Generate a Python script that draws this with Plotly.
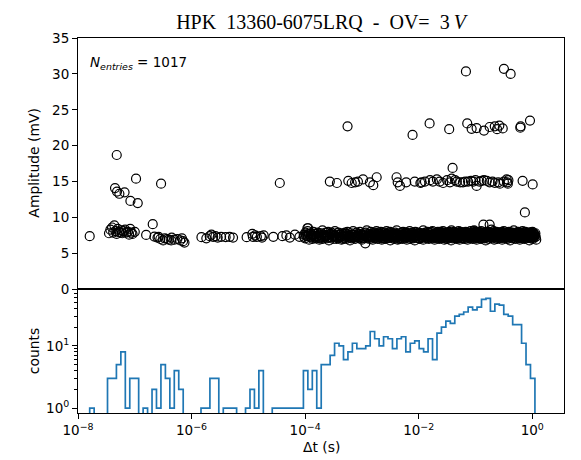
import numpy as np
import plotly.graph_objects as go

# ---------------- data ----------------
TITLE = "HPK\u00a0\u00a013360-6075LRQ\u00a0\u00a0-\u00a0\u00a0OV=\u00a0\u00a03\u2009<i>V</i>"
N_ENTRIES = 1017

# histogram of delta t (log-spaced bins between these decades)
hist_log_lo = -7.794
hist_log_hi = 0.047
hist_counts = [
    1, 0, 0, 0, 3, 3, 5, 8, 1, 3,
    3, 0, 1, 0, 2, 1, 5, 3, 1, 4,
    2, 0, 0, 0, 0, 1, 1, 3, 3, 0,
    1, 1, 1, 0, 0, 1, 2, 1, 4, 0,
    0, 1, 1, 1, 1, 1, 1, 1, 4, 2,
    4, 1, 5, 5, 7, 11, 10, 6, 8, 11,
    9, 9, 10, 17, 13, 10, 14, 13, 9, 13,
    14, 8, 11, 12, 9, 8, 13, 6, 16, 20,
    25, 23, 30, 32, 35, 42, 38, 42, 56, 58,
    36, 47, 45, 32, 30, 22, 22, 11, 5, 3,
]

# scatter: sparse events (log10 dt [s], amplitude [mV])
sparse_log_dt = [
    -7.794, -7.454, -7.43, -7.40, -7.38, -7.36, -7.34, -7.32, -7.30, -7.28,
    -7.26, -7.24, -7.22, -7.20, -7.17, -7.15, -7.12, -7.10, -7.08, -7.06,
    -7.04, -7.00, -7.318, -7.348, -7.313, -7.271, -7.18, -7.077, -6.978, -6.948,
    -6.537, -6.80, -6.684, -6.654, -6.60, -6.58, -6.55, -6.50, -6.47, -6.43,
    -6.40, -6.36, -6.35, -6.30, -6.25, -6.20, -6.17, -6.15, -6.125,
    -5.826, -5.74, -5.68, -5.65, -5.62, -5.58, -5.54, -5.48, -5.40, -5.33, -5.27,
    -5.03, -4.93, -4.92, -4.88, -4.85, -4.78, -4.76, -4.73,
    -4.56, -4.446, -4.40, -4.33, -4.27, -4.18, -4.10, -3.947,
]
sparse_amp = [
    7.4, 7.8, 8.3, 8.6, 7.9, 8.9, 8.1, 7.7, 8.4, 8.0,
    7.9, 8.2, 7.8, 8.1, 8.3, 7.9, 8.0, 7.6, 8.4, 7.9,
    7.7, 8.0, 18.7, 14.1, 13.6, 13.3, 13.5, 12.3, 15.4, 12.0,
    14.7, 7.57, 9.06, 7.34, 7.2, 7.3, 7.0, 6.8, 7.1, 7.0,
    6.9, 6.8, 7.2, 6.9, 7.0, 6.8, 7.1, 6.7, 6.5,
    7.25, 7.1, 7.4, 7.6, 7.3, 7.4, 7.2, 7.3, 7.25, 7.3, 7.2,
    7.25, 7.7, 7.3, 7.5, 7.3, 7.4, 7.2, 7.5,
    7.3, 14.8, 7.4, 7.5, 7.2, 7.6, 7.3, 8.5,
]

# scatter: main (single p.e.) band, lower half
band_log_dt = [
    -4.02, -4.00, -3.99, -3.96, -3.95, -3.93, -3.90, -3.89, -3.87, -3.85,
    -3.84, -3.81, -3.80, -3.78, -3.76, -3.75, -3.72, -3.71, -3.69, -3.67,
    -3.66, -3.63, -3.62, -3.60, -3.58, -3.57, -3.54, -3.53, -3.51, -3.49,
    -3.48, -3.45, -3.44, -3.42, -3.40, -3.39, -3.36, -3.35, -3.33, -3.31,
    -3.30, -3.27, -3.26, -3.24, -3.22, -3.21, -3.18, -3.17, -3.15, -3.13,
    -3.12, -3.09, -3.08, -3.06, -3.04, -3.03, -3.00, -2.99, -2.97, -2.95,
    -2.94, -2.91, -2.90, -2.88, -2.86,
    -2.84, -2.83, -2.81, -2.80, -2.78, -2.77, -2.75, -2.74, -2.72, -2.71,
    -2.69, -2.68, -2.66, -2.65, -2.63, -2.62, -2.61, -2.59, -2.58, -2.56,
    -2.55, -2.53, -2.52, -2.50, -2.49, -2.47, -2.46, -2.45, -2.43, -2.42,
    -2.40, -2.39, -2.37, -2.36, -2.34, -2.33, -2.31, -2.30, -2.29, -2.27,
    -2.26, -2.24, -2.23, -2.21, -2.20, -2.18, -2.17, -2.15, -2.14, -2.13,
    -2.11, -2.10, -2.08, -2.07, -2.05, -2.04, -2.02, -2.01, -1.99, -1.98,
    -1.97, -1.95, -1.94, -1.92, -1.91, -1.89, -1.88, -1.86, -1.85, -1.83,
    -1.82, -1.81, -1.79, -1.78, -1.76, -1.75, -1.73, -1.72, -1.71,
    -1.69, -1.68, -1.67, -1.65, -1.64, -1.63, -1.62, -1.60, -1.59, -1.58,
    -1.57, -1.55, -1.54, -1.53, -1.52, -1.50, -1.49, -1.48, -1.47, -1.45,
    -1.44, -1.43, -1.42, -1.40, -1.39, -1.38, -1.37, -1.35, -1.34, -1.33,
    -1.32, -1.30, -1.29, -1.28, -1.27, -1.25, -1.24, -1.23, -1.22, -1.20,
    -1.19, -1.18, -1.17, -1.15, -1.14, -1.13, -1.12, -1.10, -1.09, -1.08,
    -1.07, -1.05, -1.04, -1.03, -1.02, -1.00, -0.99, -0.98, -0.97, -0.95,
    -0.94, -0.93, -0.92, -0.90, -0.89, -0.88, -0.87, -0.85, -0.84, -0.83,
    -0.82, -0.80, -0.79, -0.78, -0.77, -0.75, -0.74, -0.73, -0.72, -0.70,
    -0.69, -0.68, -0.67, -0.65, -0.64, -0.63, -0.62, -0.60, -0.59, -0.58,
    -0.57, -0.55, -0.54, -0.53, -0.52, -0.50, -0.49, -0.48, -0.47, -0.45,
    -0.44, -0.43, -0.42, -0.40, -0.39, -0.38, -0.37, -0.35, -0.34, -0.33,
    -0.32, -0.30, -0.29, -0.28, -0.27, -0.25, -0.24, -0.23, -0.22, -0.20,
    -0.19, -0.18, -0.17, -0.15, -0.14, -0.13, -0.12, -0.10, -0.09, -0.08,
    -0.07, -0.05, -0.04, -0.03, -0.02, 0.00, 0.01, 0.02, 0.03, 0.05,
    0.06, 0.07,
]
band_amp = [
    7.3, 7.1, 7.6, 8.5, 7.4, 6.9, 7.5, 7.2, 7.0, 7.7,
    7.4, 7.1, 7.3, 7.8, 7.2, 6.9, 7.5, 7.3, 7.0, 7.6,
    7.2, 7.4, 7.1, 7.5, 6.8, 7.3, 7.6, 7.2, 7.0, 7.4,
    7.5, 7.0, 7.3, 7.1, 7.6, 7.2, 6.9, 7.4, 7.7, 7.1,
    7.3, 7.0, 7.5, 7.2, 7.4, 6.8, 7.1, 7.6, 7.3, 7.2,
    7.0, 7.4, 7.2, 7.5, 7.1, 7.3, 6.9, 7.6, 7.2, 7.4,
    6.4, 7.3, 7.1, 7.5, 7.0, 7.2, 7.4, 6.9, 7.6, 7.3,
    7.1, 7.4, 7.2, 7.0, 7.5, 7.3, 7.7, 7.1, 6.9, 7.4,
    7.2, 7.5, 7.0, 7.3, 7.6, 7.1, 7.4, 7.2, 6.8, 7.5,
    7.3, 7.1, 7.4, 7.0, 7.6, 7.2, 7.5, 6.9, 7.3, 7.1,
    7.4, 7.2, 7.6, 7.0, 7.3, 7.5, 7.1, 7.4, 6.9, 7.2,
    7.5, 7.3, 7.0, 7.4, 7.2, 7.6, 7.1, 7.3, 6.8, 7.5,
    7.2, 7.4, 7.1, 7.7, 7.0, 7.3, 7.5, 7.2, 6.9, 7.4,
    7.3, 7.6, 7.1, 7.4, 7.2, 7.0, 7.5, 7.3, 8.0, 7.1,
    7.4, 7.2, 6.9, 7.5, 7.3, 7.1, 7.6, 7.2, 7.0, 7.4,
    7.5, 7.1, 7.3, 7.8, 7.2, 6.9, 7.4, 7.6, 7.1, 7.3,
    7.0, 7.4, 7.2, 7.5, 7.3, 6.8, 7.6, 7.1, 7.4, 7.2,
    7.3, 7.5, 7.0, 7.2, 7.7, 7.1, 7.4, 6.9, 7.3, 7.6,
    7.2, 7.4, 7.1, 7.5, 7.0, 7.3, 7.8, 7.2, 6.9, 7.4,
    7.6, 7.1, 7.3, 7.5, 7.2, 7.0, 7.4, 8.1, 7.3, 7.1,
    7.4, 6.9, 7.2, 7.6, 7.3, 7.1, 7.5, 7.0, 7.4, 7.2,
    7.3, 7.7, 7.1, 7.4, 6.8, 7.2, 7.5, 7.3, 7.0, 7.6,
    7.2, 7.4, 8.3, 7.1, 7.5, 7.3, 6.9, 7.4, 7.2, 7.6,
    7.0, 7.3, 7.5, 7.1, 7.4, 7.2, 7.7, 6.9, 7.3, 7.5,
    7.1, 7.4, 7.2, 7.6, 7.0, 7.3, 7.5, 7.2, 6.8, 7.4,
    7.3, 7.1, 7.6, 7.2, 7.4, 7.0, 7.5, 7.3, 7.8, 7.1,
    7.4, 7.2, 6.9, 7.5, 7.3, 7.1, 7.6, 7.2, 7.0, 7.4,
    7.5, 7.1, 7.3, 7.7, 7.2, 6.8, 7.4, 7.6, 7.1, 7.3,
    7.0, 7.4, 7.2, 7.5, 7.3, 6.9, 7.6, 7.1, 7.4, 7.2,
]

# scatter: main band, upper half
band2_log_dt = [
    -4.015, -3.995, -3.975, -3.955, -3.935, -3.915, -3.895, -3.875, -3.855, -3.835,
    -3.815, -3.795, -3.775, -3.755, -3.735, -3.715, -3.695, -3.675, -3.655, -3.635,
    -3.615, -3.595, -3.575, -3.555, -3.535, -3.515, -3.495, -3.475, -3.455, -3.435,
    -3.415, -3.395, -3.375, -3.355, -3.335, -3.315, -3.295, -3.275, -3.255, -3.235,
    -3.215, -3.195, -3.175, -3.155, -3.135, -3.115, -3.095, -3.075, -3.055, -3.035,
    -3.015, -2.995, -2.975, -2.955, -2.935, -2.915, -2.895, -2.875, -2.865, -2.855,
    -2.845, -2.832, -2.819, -2.806, -2.794, -2.781, -2.768, -2.756, -2.743, -2.730,
    -2.718, -2.705, -2.692, -2.680, -2.667, -2.654, -2.642, -2.629, -2.616, -2.604,
    -2.591, -2.578, -2.566, -2.553, -2.540, -2.528, -2.515, -2.502, -2.490, -2.477,
    -2.464, -2.452, -2.439, -2.426, -2.414, -2.401, -2.388, -2.376, -2.363, -2.350,
    -2.338, -2.325, -2.312, -2.300, -2.287, -2.274, -2.262, -2.249, -2.236, -2.224,
    -2.211, -2.198, -2.186, -2.173, -2.160, -2.148, -2.135, -2.122, -2.110, -2.097,
    -2.084, -2.072, -2.059, -2.046, -2.034, -2.021, -2.008, -1.996, -1.983, -1.970,
    -1.958, -1.945, -1.932, -1.920, -1.907, -1.894, -1.882, -1.869, -1.856, -1.844,
    -1.831, -1.818, -1.806, -1.793, -1.780, -1.768, -1.755, -1.742, -1.730, -1.717,
    -1.697, -1.690, -1.683, -1.676, -1.669, -1.662, -1.655, -1.648, -1.641, -1.634,
    -1.627, -1.620, -1.613, -1.606, -1.599, -1.592, -1.585, -1.578, -1.571, -1.564,
    -1.557, -1.550, -1.543, -1.536, -1.529, -1.522, -1.515, -1.508, -1.501, -1.494,
    -1.487, -1.480, -1.473, -1.466, -1.459, -1.452, -1.445, -1.438, -1.431, -1.424,
    -1.417, -1.410, -1.403, -1.396, -1.389, -1.382, -1.375, -1.368, -1.361, -1.354,
    -1.347, -1.340, -1.333, -1.326, -1.319, -1.312, -1.305, -1.298, -1.291, -1.284,
    -1.277, -1.270, -1.263, -1.256, -1.249, -1.242, -1.235, -1.228, -1.221, -1.214,
    -1.207, -1.200, -1.193, -1.186, -1.179, -1.172, -1.165, -1.158, -1.151, -1.144,
    -1.137, -1.130, -1.123, -1.116, -1.109, -1.102, -1.095, -1.088, -1.081, -1.074,
    -1.067, -1.060, -1.053, -1.046, -1.039, -1.032, -1.025, -1.018, -1.011, -1.004,
    -0.997, -0.990, -0.983, -0.976, -0.969, -0.962, -0.955, -0.948, -0.941, -0.934,
    -0.927, -0.920, -0.913, -0.906, -0.899, -0.892, -0.885, -0.878, -0.871, -0.864,
    -0.857, -0.850, -0.843, -0.836, -0.829, -0.822, -0.815, -0.808, -0.801, -0.794,
    -0.787, -0.780, -0.773, -0.766, -0.759, -0.752, -0.745, -0.738, -0.731, -0.724,
    -0.717, -0.710, -0.703, -0.696, -0.689, -0.682, -0.675, -0.668, -0.661, -0.654,
    -0.647, -0.640, -0.633, -0.626, -0.619, -0.612, -0.605, -0.598, -0.591, -0.584,
    -0.577, -0.570, -0.563, -0.556, -0.549, -0.542, -0.535, -0.528, -0.521, -0.514,
    -0.507, -0.500, -0.493, -0.486, -0.479, -0.472, -0.465, -0.458, -0.451, -0.444,
    -0.437, -0.430, -0.423, -0.416, -0.409, -0.402, -0.395, -0.388, -0.381, -0.374,
    -0.367, -0.360, -0.353, -0.346, -0.339, -0.332, -0.325, -0.318, -0.311, -0.304,
    -0.297, -0.290, -0.283, -0.276, -0.269, -0.262, -0.255, -0.248, -0.241, -0.234,
    -0.227, -0.220, -0.213, -0.206, -0.199, -0.192, -0.185, -0.178, -0.171, -0.164,
    -0.157, -0.150, -0.143, -0.136, -0.129, -0.122, -0.115, -0.108, -0.101, -0.094,
    -0.087, -0.080, -0.073, -0.066, -0.059, -0.052, -0.045, -0.038, -0.031, -0.024,
    -0.017, -0.010, -0.003, 0.004, 0.011, 0.018, 0.025, 0.032, 0.040, 0.055,
]
band2_amp = [
    7.6, 7.9, 7.4, 8.1, 7.7, 7.3, 7.8, 7.5, 8.0, 7.2,
    7.7, 7.4, 7.9, 7.6, 7.1, 7.8, 8.2, 7.5, 7.3, 7.9,
    7.5, 8.0, 7.2, 7.7, 7.9, 7.4, 7.6, 8.1, 7.3, 7.8,
    7.9, 7.3, 7.6, 7.8, 7.0, 7.5, 7.9, 7.7, 8.0, 7.4,
    7.2, 7.8, 7.5, 8.1, 7.6, 7.3, 7.9, 7.4, 7.7, 8.0,
    7.6, 7.1, 7.8, 7.5, 7.9, 8.2, 7.4, 7.7, 7.3, 7.6,
    8.0, 7.5, 7.3, 7.8, 7.6, 7.9, 7.2, 7.7, 8.1, 7.4,
    7.7, 7.9, 7.4, 7.6, 8.0, 7.3, 7.8, 7.5, 7.1, 7.9,
    7.4, 7.7, 8.1, 7.5, 7.2, 7.9, 7.6, 8.0, 7.8, 7.3,
    7.8, 7.5, 7.6, 7.3, 7.9, 7.7, 8.2, 7.4, 7.6, 7.0,
    7.5, 7.8, 7.2, 7.9, 7.6, 8.0, 7.4, 7.7, 7.3, 7.9,
    7.9, 7.4, 7.7, 7.6, 8.1, 7.2, 7.8, 7.5, 7.9, 7.6,
    7.3, 7.7, 8.0, 7.5, 7.8, 7.4, 7.6, 7.9, 7.1, 7.8,
    7.8, 7.6, 7.3, 8.2, 7.5, 7.7, 7.9, 7.4, 7.6, 8.0,
    7.4, 7.9, 7.6, 7.2, 7.8, 7.5, 8.1, 7.7, 7.3, 7.6,
    7.7, 7.5, 7.9, 7.4, 7.6, 8.0, 7.3, 7.8, 7.5, 7.9,
    7.6, 8.0, 7.3, 7.7, 7.9, 7.2, 7.8, 7.6, 8.1, 7.4,
    7.9, 7.4, 7.8, 7.5, 7.3, 7.9, 7.6, 7.0, 7.7, 7.8,
    7.5, 7.7, 7.4, 8.0, 7.6, 7.8, 7.3, 7.9, 7.5, 8.2,
    7.8, 7.3, 7.7, 7.6, 7.9, 7.4, 8.0, 7.5, 7.7, 7.2,
    7.6, 7.9, 7.5, 7.8, 7.2, 7.7, 7.4, 8.1, 7.6, 7.9,
    7.3, 7.8, 8.0, 7.4, 7.7, 7.5, 7.9, 7.6, 7.1, 7.8,
    7.9, 7.5, 7.6, 7.8, 7.3, 8.0, 7.7, 7.4, 7.9, 7.6,
    7.4, 7.7, 7.9, 7.2, 7.8, 7.6, 7.5, 8.1, 7.3, 7.7,
    7.8, 7.6, 7.4, 7.9, 7.5, 7.7, 8.2, 7.3, 7.6, 7.9,
    7.5, 8.0, 7.7, 7.3, 7.9, 7.4, 7.8, 7.6, 7.2, 8.0,
    7.7, 7.4, 7.8, 7.6, 8.1, 7.5, 7.3, 7.9, 7.7, 7.5,
    7.9, 7.6, 7.2, 7.8, 7.4, 7.9, 7.6, 7.7, 8.0, 7.3,
    7.6, 7.8, 7.5, 8.0, 7.7, 7.3, 7.9, 7.4, 7.8, 7.6,
    7.3, 7.9, 7.7, 7.5, 7.6, 8.1, 7.4, 7.8, 7.5, 7.9,
    7.8, 7.5, 8.0, 7.4, 7.9, 7.6, 7.2, 7.7, 7.9, 7.4,
    7.6, 7.7, 7.3, 7.9, 7.5, 7.8, 8.0, 7.4, 7.6, 7.8,
    7.4, 8.1, 7.6, 7.7, 7.3, 7.9, 7.5, 7.8, 7.2, 7.7,
    7.9, 7.5, 7.8, 7.6, 8.0, 7.4, 7.7, 7.3, 7.9, 7.6,
    7.7, 7.3, 7.9, 7.5, 7.8, 7.6, 8.2, 7.5, 7.4, 7.8,
    7.5, 7.8, 7.6, 7.9, 7.4, 7.7, 7.3, 8.0, 7.6, 7.9,
    7.8, 7.6, 7.4, 7.7, 7.9, 7.2, 7.8, 7.5, 8.1, 7.4,
    7.6, 7.9, 7.7, 7.3, 7.5, 8.0, 7.6, 7.8, 7.4, 7.7,
    7.3, 7.7, 7.8, 7.6, 7.9, 7.5, 7.4, 7.9, 7.7, 7.2,
    7.9, 7.4, 7.6, 8.0, 7.5, 7.8, 7.3, 7.7, 7.6, 7.8,
]

# scatter: higher amplitude events (2, 3, 4 p.e. and others)
high_log_dt = [
    -3.565, -3.44, -3.24, -3.18, -3.12, -3.07, -2.98, -2.86, -2.80, -2.74,
    -2.39, -2.37, -2.33, -2.22, -2.07, -1.97, -1.95, -1.89, -1.80, -1.75,
    -1.68, -1.63, -1.57, -1.50, -1.45, -1.42, -1.403, -1.36, -1.33, -1.27,
    -1.22, -1.18, -1.13, -1.08, -1.04, -1.00, -0.98, -0.93, -0.89, -0.85,
    -0.80, -0.75, -0.70, -0.66, -0.60, -0.57, -0.50, -0.45, -0.44, -0.42,
    -0.43, -0.17, 0.007,
    -3.253, -2.108, -1.808, -1.463, -1.145, -1.068, -0.98, -0.85, -0.75, -0.66,
    -0.62, -0.58, -0.52, -0.205, -0.21, -0.04,
    -1.168, -0.499, -0.381,
    -0.13, -0.86, -0.75,
]
high_amp = [
    15.0, 14.8, 15.1, 14.8, 14.9, 15.0, 15.3, 14.9, 14.5, 15.6,
    15.6, 14.9, 14.4, 14.9, 15.0, 14.8, 14.9, 15.0, 15.2, 15.0,
    15.3, 15.0, 14.8, 15.2, 14.9, 15.4, 16.9, 15.2, 15.0, 14.9,
    14.9, 15.0, 15.0, 15.1, 15.0, 15.2, 14.4, 15.0, 15.1, 15.2,
    15.1, 14.9, 15.0, 14.8, 14.9, 14.7, 15.0, 15.3, 14.9, 15.2,
    14.7, 15.1, 14.6,
    22.7, 21.5, 23.1, 22.3, 23.1, 22.35, 22.45, 22.1, 22.6, 22.7,
    22.3, 22.8, 22.4, 22.7, 22.5, 23.5,
    30.35, 30.7, 30.0,
    10.7, 9.0, 9.0,
]

# ticks
x_tick_vals = [1e-8, 1e-6, 1e-4, 1e-2, 1e0]
x_tick_text = ["10<sup>\u22128</sup>", "10<sup>\u22126</sup>", "10<sup>\u22124</sup>",
               "10<sup>\u22122</sup>", "10<sup>0</sup>"]
amp_tick_vals = [0, 5, 10, 15, 20, 25, 30, 35]
cnt_tick_vals = [1, 10]
cnt_tick_text = ["10<sup>0</sup>", "10<sup>1</sup>"]
cnt_minor_vals = [2, 3, 4, 5, 6, 7, 8, 9, 20, 30, 40, 50, 60, 70, 80]

# ---------------- build ----------------
def pairs(a, b):
    n = min(len(a), len(b))
    return list(a[:n]), list(b[:n])

sx, sy = pairs(sparse_log_dt, sparse_amp)
bx, by = pairs(band_log_dt, band_amp)
b2x, b2y = pairs(band2_log_dt, band2_amp)
hx, hy = pairs(high_log_dt, high_amp)
all_log = sx + bx + b2x + hx
all_amp = sy + by + b2y + hy
all_dt = [10 ** v for v in all_log]

edges = np.logspace(hist_log_lo, hist_log_hi, len(hist_counts) + 1)
base = 0.1
cnt_plot = [c if c > 0 else base for c in hist_counts]
step_x = [edges[0]] + list(edges[:-1]) + [edges[-1], edges[-1]]
step_y = [base] + cnt_plot + [cnt_plot[-1], base]

fig = go.Figure()
fig.add_trace(go.Scatter(
    x=all_dt, y=all_amp, mode="markers", xaxis="x2", yaxis="y2",
    marker=dict(symbol="circle-open", size=9, color="black",
                line=dict(color="black", width=1.2)),
    showlegend=False, hoverinfo="skip",
))
fig.add_trace(go.Scatter(
    x=step_x, y=step_y, mode="lines", xaxis="x", yaxis="y",
    line=dict(color="#1f77b4", width=1.7, shape="hv"),
    showlegend=False, hoverinfo="skip",
))

# the page body adds an 8 px offset; compensate in the figure size/margins
W, H = 573, 452
ML, MR, MT, MB = 70, 17, 30, 47
split = 0.33
x_range = [-8, 0.559]
tickfont = dict(family="DejaVu Sans", size=13.5, color="black")
axis_common = dict(showgrid=False, zeroline=False, showline=True, mirror=True,
                   linecolor="black", linewidth=1.1, ticks="outside",
                   ticklen=5, tickwidth=1, tickcolor="black", tickfont=tickfont)
top_x_common = {k: v for k, v in axis_common.items() if k != "ticks"}

fig.update_layout(
    width=W, height=H,
    margin=dict(l=ML, r=MR, t=MT, b=MB),
    paper_bgcolor="white", plot_bgcolor="white",
    xaxis=dict(type="log", range=x_range, domain=[0, 1], anchor="y",
               tickvals=x_tick_vals, ticktext=x_tick_text, **axis_common),
    yaxis=dict(type="log", range=[-0.08, 1.91], domain=[0, split], anchor="x",
               tickvals=cnt_tick_vals, ticktext=cnt_tick_text,
               minor=dict(tickvals=cnt_minor_vals, ticks="outside", ticklen=2.8,
                          tickwidth=0.8, tickcolor="black"),
               **axis_common),
    xaxis2=dict(type="log", range=x_range, domain=[0, 1], anchor="y2",
                matches="x", showticklabels=False, ticks="", **top_x_common),
    yaxis2=dict(range=[0, 35], domain=[split, 1], anchor="x2",
                tickvals=amp_tick_vals, **axis_common),
    title=dict(text=TITLE, x=(ML + (W - MR)) / 2 / W, xanchor="center",
               xref="container", yref="container", y=1 - 14 / H, yanchor="middle",
               font=dict(family="Liberation Serif", size=20, color="black")),
    annotations=[
        dict(text="<i>N</i><sub><i>entries</i></sub> = %d" % N_ENTRIES,
             xref="paper", yref="paper", x=0, y=1, xshift=10, yshift=-25,
             xanchor="left", yanchor="middle", showarrow=False,
             font=dict(family="DejaVu Sans", size=13.5, color="black")),
        dict(text="Amplitude (mV)", xref="paper", yref="paper",
             x=0, y=(split + 1) / 2, xshift=-44, xanchor="center", yanchor="middle",
             textangle=-90, showarrow=False,
             font=dict(family="DejaVu Sans", size=13.9, color="black")),
        dict(text="counts", xref="paper", yref="paper",
             x=0, y=split / 2, xshift=-44, xanchor="center", yanchor="middle",
             textangle=-90, showarrow=False,
             font=dict(family="DejaVu Sans", size=13.9, color="black")),
        dict(text="\u0394t (s)", xref="paper", yref="paper",
             x=0.5, y=0, yshift=-34, xanchor="center", yanchor="middle",
             showarrow=False,
             font=dict(family="DejaVu Sans", size=13.9, color="black")),
    ],
)

fig.write_html("out.html")
